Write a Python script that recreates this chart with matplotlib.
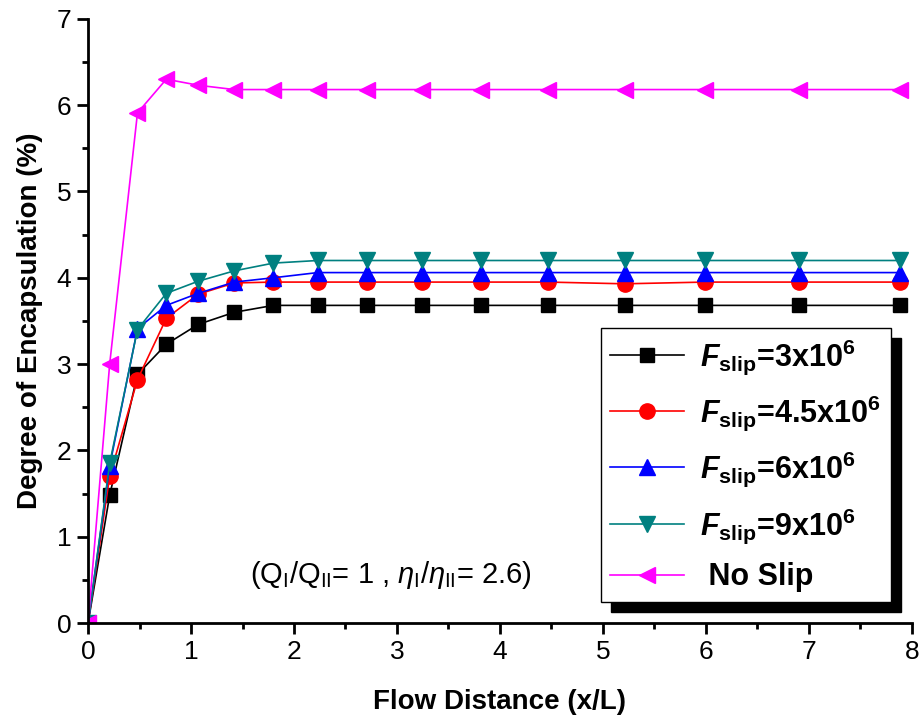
import numpy as np
import matplotlib
matplotlib.use("Agg")
import matplotlib.pyplot as plt
from matplotlib.patches import Rectangle

plt.rcParams["font.family"] = ["Liberation Sans", "DejaVu Sans"]
plt.rcParams["mathtext.fontset"] = "custom"
plt.rcParams["mathtext.rm"] = "Liberation Sans"
plt.rcParams["mathtext.it"] = "Liberation Sans:italic"
plt.rcParams["mathtext.bf"] = "Liberation Sans:bold"
plt.rcParams["mathtext.bfit"] = "Liberation Sans:bold:italic"

# flow distance (x/L)
x = [0, 0.21, 0.48, 0.76, 1.07, 1.42, 1.80, 2.23, 2.71, 3.24, 3.82, 4.47, 5.21, 5.99, 6.90, 7.88]

f3 = [0, 1.48, 2.88, 3.23, 3.46, 3.60, 3.68, 3.68, 3.68, 3.68, 3.68, 3.68, 3.68, 3.68, 3.68, 3.68]
f45 = [0, 1.70, 2.82, 3.53, 3.81, 3.94, 3.95, 3.95, 3.95, 3.95, 3.95, 3.95, 3.93, 3.95, 3.95, 3.95]
f6 = [0, 1.82, 3.41, 3.68, 3.82, 3.95, 4.00, 4.06, 4.06, 4.06, 4.06, 4.06, 4.06, 4.06, 4.06, 4.06]
f9 = [0, 1.85, 3.40, 3.82, 3.96, 4.08, 4.17, 4.20, 4.20, 4.20, 4.20, 4.20, 4.20, 4.20, 4.20, 4.20]
noslip = [0, 3.00, 5.91, 6.30, 6.23, 6.18, 6.18, 6.18, 6.18, 6.18, 6.18, 6.18, 6.18, 6.18, 6.18, 6.18]

slip_vals = ["3", "4.5", "6", "9"]
labels = [r"$\mathbfit{F}_{\mathbf{slip}}$=" + v + r"x10$^{\mathbf{6}}$" for v in slip_vals]
labels.append(" No Slip")

fig = plt.figure(figsize=(9.22, 7.22), dpi=100)
ax = fig.add_axes([0.0955, 0.137, 0.8935, 0.837])

styles = [("black", "s", 10), ("red", "o", 11), ("blue", "^", 12),
          ("#008080", "v", 12), ("magenta", "<", 12)]
for y, lab, (c, m, ms) in zip([f3, f45, f6, f9, noslip], labels, styles):
    ax.plot(x, y, color=c, marker=m, ms=ms, lw=1.2, label=lab)

ax.set_xlim(0, 8)
ax.set_ylim(0, 7)
ax.set_xticks(range(9))
ax.set_yticks(range(8))
ax.set_xticks(np.arange(0.5, 8, 1), minor=True)
ax.set_yticks(np.arange(0.5, 7, 1), minor=True)
for s in ["top", "right"]:
    ax.spines[s].set_visible(False)
for s in ["left", "bottom"]:
    ax.spines[s].set_linewidth(2)
ax.tick_params(which="major", length=8, width=2, labelsize=19, pad=4)
ax.tick_params(which="minor", length=4, width=2)

ax.set_xlabel("Flow Distance (x/L)", fontsize=20, fontweight="bold", labelpad=18)
ax.set_ylabel("Degree of Encapsulation (%)", fontsize=20, fontweight="bold", labelpad=10)

ax.text(2.94, 0.56, r"($\mathrm{Q}_{\mathrm{I}}/\mathrm{Q}_{\mathrm{II}}$= 1 , "
        r"$\eta_{\mathrm{I}}/\eta_{\mathrm{II}}$= 2.6)",
        fontsize=21, ha="center", va="center")

leg = ax.legend(loc="upper left", bbox_to_anchor=(601 / 922, 1 - 328 / 722),
                bbox_transform=fig.transFigure,
                prop={"size": 22, "weight": "bold"}, frameon=True,
                fancybox=False, edgecolor="black", facecolor="white",
                framealpha=1, handlelength=2.4, borderpad=0.3,
                labelspacing=0.55, handletextpad=0.55, borderaxespad=0)
leg.get_frame().set_linewidth(1)
leg.set_zorder(10)

fig.canvas.draw()
bb = leg.get_window_extent().transformed(fig.transFigure.inverted())
shadow = Rectangle((bb.x0 + 10 / 922, bb.y0 - 10 / 722), bb.width, bb.height,
                   transform=fig.transFigure, color="black", zorder=9,
                   clip_on=False)
ax.add_patch(shadow)

fig.savefig("out.png", dpi=100)
